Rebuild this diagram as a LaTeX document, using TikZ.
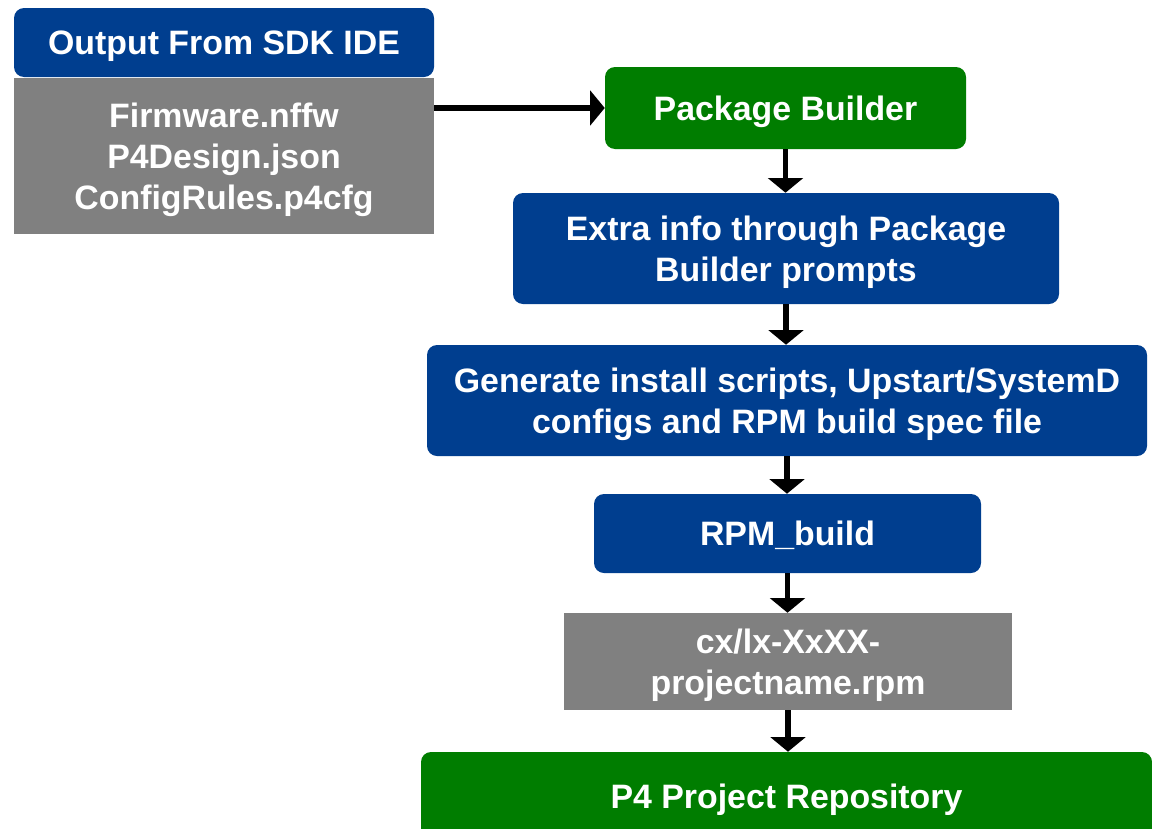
\documentclass[tikz,border=0pt]{standalone}
\usepackage{fontspec}
\setmainfont{Liberation Sans}
\usetikzlibrary{arrows.meta}
\definecolor{bblue}{RGB}{0,62,143}
\definecolor{bgreen}{RGB}{0,125,0}
\definecolor{bgray}{RGB}{128,128,128}
\def\u{0.75pt}
\tikzset{
  box/.style={inner sep=0pt, text=white, align=center, text depth=0pt,
    font=\fontsize{25.4}{30.75}\selectfont\bfseries},
  bluebox/.style={box, fill=bblue, rounded corners=7.5pt},
  greenbox/.style={box, fill=bgreen, rounded corners=7.5pt},
  graybox/.style={box, fill=bgray},
  flow/.style={line width=4.2pt, -{Triangle[length=11pt,width=26pt]}}
}
\begin{document}
\begin{tikzpicture}[x=0.75pt,y=-0.75pt]
\useasboundingbox (0,0) rectangle (1152,828);
\clip (0,0) rectangle (1152,828);
\node[bluebox, minimum width=420*\u, minimum height=69*\u] (title) at (224,42.5) {Output From SDK IDE};
\node[graybox, minimum width=420*\u, minimum height=156*\u] (files) at (224,156) {Firmware.nffw\\P4Design.json\\ConfigRules.p4cfg};
\node[greenbox, minimum width=361*\u, minimum height=82*\u] (pkg) at (785.5,108) {Package Builder};
\node[bluebox, minimum width=546*\u, minimum height=111*\u] (extra) at (786,248.5) {Extra info through Package\\Builder prompts};
\node[bluebox, minimum width=720*\u, minimum height=111*\u] (gen) at (787,400.5) {Generate install scripts, Upstart/SystemD\\configs and RPM build spec file};
\node[bluebox, minimum width=387*\u, minimum height=79*\u] (rpm) at (787.5,533.5) {RPM\_build};
\node[graybox, minimum width=448*\u, minimum height=97*\u] (cx) at (788,661.5) {cx/lx-XxXX-\\projectname.rpm};
\node[greenbox, minimum width=731*\u, minimum height=88*\u] (repo) at (786.5,796) {P4 Project Repository};
\draw[flow] (files.east |- pkg.west) -- (pkg.west);
\draw[flow] (pkg.south) -- (pkg.south |- extra.north);
\draw[flow] (extra.south) -- (extra.south |- gen.north);
\draw[flow] (gen.south) -- (gen.south |- rpm.north);
\draw[flow] (rpm.south) -- (rpm.south |- cx.north);
\draw[flow] (cx.south) -- (cx.south |- repo.north);
\end{tikzpicture}
\end{document}
